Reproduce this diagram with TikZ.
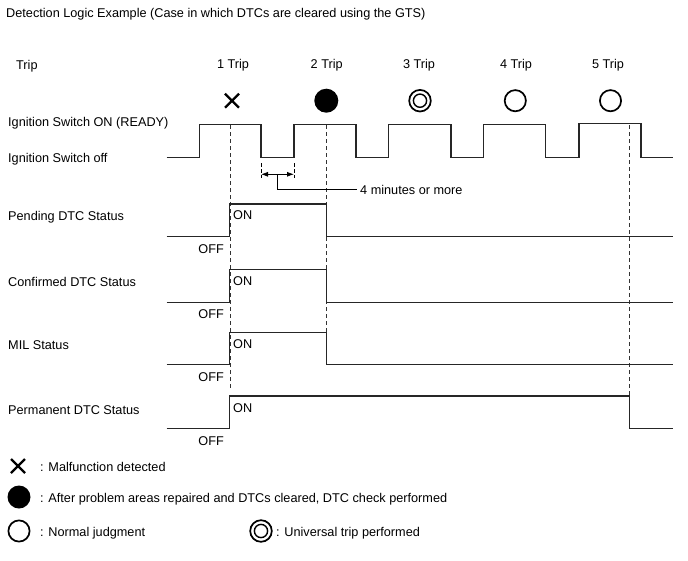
\documentclass[tikz,border=0pt]{standalone}
\usepackage{fontspec}
\setmainfont{Liberation Sans}
\usetikzlibrary{arrows.meta}
\begin{document}
\begin{tikzpicture}[x=1pt,y=-1pt,
  txt/.style={inner sep=0pt,text height=10pt,text depth=0pt,font=\fontsize{12.7}{14}\selectfont},
  lbl/.style={txt,anchor=west},
  offl/.style={txt,anchor=east},
  wave/.style={line width=1.35pt,line join=miter,black!85},
  guide/.style={line width=0.9pt,dash pattern=on 4pt off 3pt,black!80},
  sym/.style={line width=1.7pt},
  crossmark/.style={line width=2.3pt}]
\useasboundingbox (0,0) rectangle (688,560);

% title and row labels
\node[lbl] (title) at (6,12) {Detection Logic Example (Case in which DTCs are cleared using the GTS)};
\node[lbl] (trip) at (16,64) {Trip};
\node[lbl] (ignon) at (8,121) {Ignition Switch ON (READY)};
\node[lbl] (ignoff) at (8,157) {Ignition Switch off};
\node[lbl] (pend) at (8,215) {Pending DTC Status};
\node[lbl] (conf) at (8,281) {Confirmed DTC Status};
\node[lbl] (mil) at (8,344) {MIL Status};
\node[lbl] (perm) at (8,409) {Permanent DTC Status};

% trip labels
\node[txt] (t1) at (233,63) {1 Trip};
\node[txt] (t2) at (326.7,63) {2 Trip};
\node[txt] (t3) at (419,63) {3 Trip};
\node[txt] (t4) at (516,63) {4 Trip};
\node[txt] (t5) at (608,63) {5 Trip};

% trip symbols
\draw[crossmark] (225,93.7) -- (239,107.7) (225,107.7) -- (239,93.7);
\fill (326.3,100.7) circle (12);
\draw[sym] (420,100.7) circle (10.8);
\draw[line width=1.4pt] (420,100.7) circle (6.6);
\draw[sym] (515.3,100.7) circle (10.6);
\draw[sym] (610.5,100.7) circle (10.6);

% guide lines
\draw[guide] (230,125) -- (230,390);
\draw[guide] (326.7,125) -- (326.7,332.5);
\draw[guide] (629.7,125) -- (629.7,396);

% ignition waveform
\draw[wave] (166.7,157.7) -- (199.3,157.7) -- (199.3,124.3) -- (261,124.3) -- (261,157.7)
  -- (294,157.7) -- (294,124.3) -- (356,124.3) -- (356,157.7)
  -- (388.7,157.7) -- (388.7,124.3) -- (451,124.3) -- (451,157.7)
  -- (483.3,157.7) -- (483.3,124.3) -- (545.7,124.3) -- (545.7,157.7)
  -- (579,157.7) -- (579,123.3) -- (641,123.3) -- (641,157.7) -- (673.3,157.7);

% 4 minutes dimension
\coordinate (dl) at (261,174.3);
\coordinate (dr) at (294,174.3);
\coordinate (lead) at (356.7,189.3);
\draw[line width=0.8pt,dash pattern=on 4pt off 2pt] (261,163) -- (261,178);
\draw[line width=0.8pt,dash pattern=on 4pt off 2pt] (294,163) -- (294,178);
\draw[line width=0.8pt,{Latex[length=7pt,width=5pt]}-{Latex[length=7pt,width=5pt]}] (dl) -- (dr);
\node[lbl] (four) at (360,189.3) {4 minutes or more};
\draw[line width=0.8pt] (277.3,174.3) |- (lead);

% status waveforms
\draw[wave] (166.7,236.7) -- (229.7,236.7) -- (229.7,204) -- (326.7,204) -- (326.7,236.7) -- (673.3,236.7);
\draw[wave] (166.7,302.3) -- (229.7,302.3) -- (229.7,269.5) -- (326.7,269.5) -- (326.7,302.3) -- (673.3,302.3);
\draw[wave] (166.7,364.7) -- (229.7,364.7) -- (229.7,332.5) -- (326.7,332.5) -- (326.7,364.7) -- (673.3,364.7);
\draw[wave] (166.7,428.3) -- (229.7,428.3) -- (229.7,396) -- (629.7,396) -- (629.7,428.3) -- (673.3,428.3);

% ON / OFF labels
\node[lbl] (on1) at (233,214) {ON};
\node[lbl] (on2) at (233,280) {ON};
\node[lbl] (on3) at (233,343) {ON};
\node[lbl] (on4) at (233,407) {ON};
\node[offl] (off1) at (224,248) {OFF};
\node[offl] (off2) at (224,313) {OFF};
\node[offl] (off3) at (224,376) {OFF};
\node[offl] (off4) at (224,440) {OFF};

% legend
\draw[crossmark] (11,459) -- (25,473) (11,473) -- (25,459);
\node[lbl] (lg1) at (40,466) {: Malfunction detected};
\fill (19,497) circle (11.5);
\node[lbl] (lg2) at (40,497) {: After problem areas repaired and DTCs cleared, DTC check performed};
\draw[sym] (19,531) circle (10.6);
\node[lbl] (lg3) at (40,531) {: Normal judgment};
\draw[sym] (261,531) circle (10.8);
\draw[line width=1.4pt] (261,531) circle (6.6);
\node[lbl] (lg4) at (276,531) {: Universal trip performed};
\end{tikzpicture}
\end{document}
